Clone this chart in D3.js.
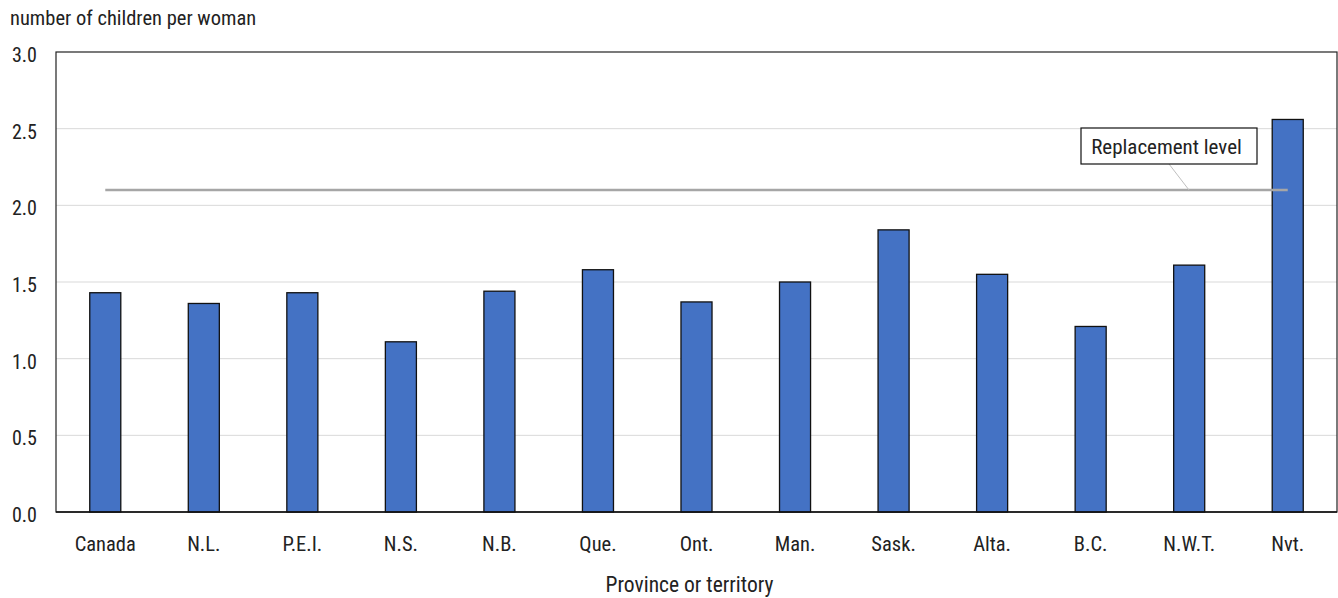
<!DOCTYPE html>
<html><head><meta charset="utf-8">
<script src="https://cdn.jsdelivr.net/npm/d3@7"></script>
<style>body{margin:0;background:#fff}svg{display:block}text{font-family:"Liberation Sans Narrow","Roboto Condensed","Arial Narrow",sans-serif;fill:#222}</style>
</head><body><svg id="c" width="1338" height="598"></svg>
<script>
const categories = ["Canada","N.L.","P.E.I.","N.S.","N.B.","Que.","Ont.","Man.","Sask.","Alta.","B.C.","N.W.T.","Nvt."];
const values = [1.43,1.36,1.43,1.11,1.44,1.58,1.37,1.50,1.84,1.55,1.21,1.61,2.56];
const replacementLevel = 2.1;
const yTicks = [0,0.5,1.0,1.5,2.0,2.5,3.0];
const yTitle = "number of children per woman";
const xTitle = "Province or territory";
const refLabel = "Replacement level";

const svg = d3.select("#c");
const L = 56, R = 1337, T = 52, B = 512;
const x = d3.scaleBand().domain(categories).range([L,R]).paddingInner(0.685).paddingOuter(0.3425);
const y = d3.scaleLinear().domain([0,3]).range([B,T]);

svg.append("g").selectAll("line").data(yTicks.slice(1,-1)).join("line")
  .attr("x1",L).attr("x2",R).attr("y1",d=>y(d)).attr("y2",d=>y(d))
  .attr("stroke","#d9d9d9").attr("stroke-width",1);

svg.append("g").selectAll("text").data(yTicks).join("text")
  .attr("x",37).attr("y",d=>y(d)+10).attr("text-anchor","end").attr("font-size",20)
  .text(d=>d.toFixed(1));

svg.append("text").attr("x",10).attr("y",25).attr("font-size",20.5).text(yTitle);

svg.append("rect").attr("x",L).attr("y",T).attr("width",R-L).attr("height",B-T)
  .attr("fill","none").attr("stroke","#222").attr("stroke-width",1.2);

svg.append("g").selectAll("rect").data(values).join("rect")
  .attr("x",(d,i)=>x(categories[i])).attr("width",x.bandwidth())
  .attr("y",d=>y(d)).attr("height",d=>B-y(d))
  .attr("fill","#4472c4").attr("stroke","#111").attr("stroke-width",1.3);

svg.append("line").attr("x1",L).attr("x2",R).attr("y1",B).attr("y2",B).attr("stroke","#111").attr("stroke-width",1.5);

const c0 = x(categories[0])+x.bandwidth()/2, cN = x(categories[categories.length-1])+x.bandwidth()/2;
svg.append("line").attr("x1",c0).attr("x2",cN).attr("y1",y(replacementLevel)).attr("y2",y(replacementLevel))
  .attr("stroke","#a6a6a6").attr("stroke-width",2.5);

svg.append("line").attr("x1",1169).attr("y1",164).attr("x2",1189).attr("y2",y(replacementLevel))
  .attr("stroke","#bfbfbf").attr("stroke-width",1);
svg.append("rect").attr("x",1081).attr("y",128).attr("width",176).attr("height",36)
  .attr("fill","#fff").attr("stroke","#111").attr("stroke-width",1.2);
svg.append("text").attr("x",1166.5).attr("y",154).attr("text-anchor","middle").attr("font-size",21).text(refLabel);

svg.append("g").selectAll("text").data(categories).join("text")
  .attr("x",d=>x(d)+x.bandwidth()/2).attr("y",551).attr("text-anchor","middle").attr("font-size",20.5)
  .text(d=>d);

svg.append("text").attr("x",689.5).attr("y",592).attr("text-anchor","middle").attr("font-size",21.5).text(xTitle);
</script></body></html>
